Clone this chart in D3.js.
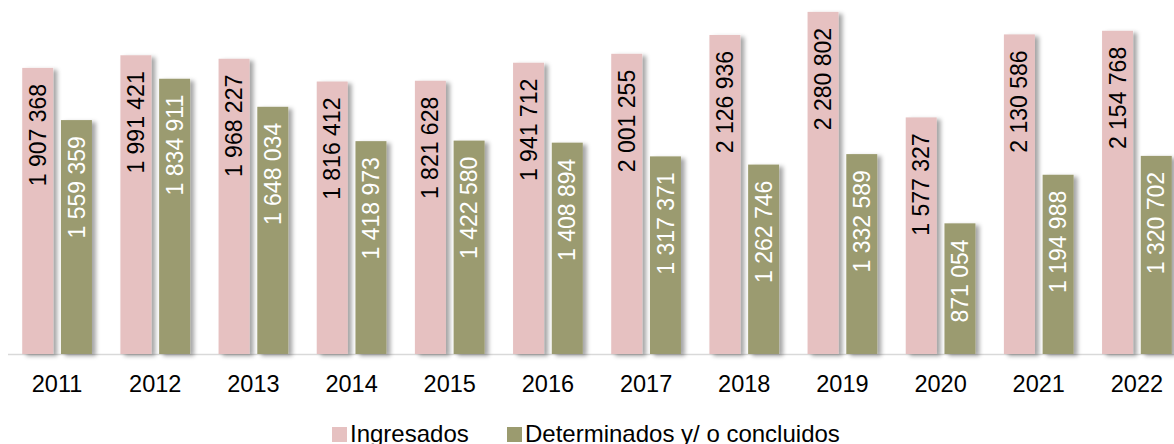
<!DOCTYPE html>
<meta charset="utf-8">
<style>
  body { margin: 0; background: #fff; }
  text { font-family: "Liberation Sans", Arial, sans-serif; }
</style>
<svg id="chart" width="1174" height="444"></svg>
<script src="https://d3js.org/d3.v7.min.js"></script>
<script>
// data
var years = ["2011", "2012", "2013", "2014", "2015", "2016", "2017", "2018", "2019", "2020", "2021", "2022"]
var ingresados = [1907368, 1991421, 1968227, 1816412, 1821628, 1941712, 2001255, 2126936, 2280802, 1577327, 2130586, 2154768]
var determinados = [1559359, 1834911, 1648034, 1418973, 1422580, 1408894, 1317371, 1262746, 1332589, 871054, 1194988, 1320702]
var seriesNames = ["Ingresados", "Determinados y/ o concluidos"]
var seriesColors = ["#e6c1c1", "#9b9b6f"]
var labelColors = ["#000", "#fff"]

var rows = years.map((y, i) => ({ year: y, values: [ingresados[i], determinados[i]] }))

var svg = d3.select("#chart")
var fmt = d3.formatLocale({ decimal: ",", thousands: " ", grouping: [3], currency: ["", ""] }).format(",")

var baseY = 354
var x0 = d3.scaleBand().domain(years).range([8, 1186]).paddingInner(0.29).paddingOuter(0.145)
var x1 = d3.scaleBand().domain([0, 1]).range([0, x0.bandwidth()]).paddingInner(0.2)
var y = d3.scaleLinear().domain([0, 2360000]).range([baseY, 0])

// soft shadow to the right of each bar
var defs = svg.append("defs")
defs.append("filter").attr("id", "shadow")
  .attr("x", "-20%").attr("y", "-10%").attr("width", "160%").attr("height", "130%")
  .append("feDropShadow")
  .attr("dx", 4).attr("dy", 2).attr("stdDeviation", 2)
  .attr("flood-color", "#000").attr("flood-opacity", 0.35)

// axis line
svg.append("line")
  .attr("x1", 8).attr("x2", 1174)
  .attr("y1", baseY + 0.5).attr("y2", baseY + 0.5)
  .attr("stroke", "#d9d9d9").attr("stroke-width", 1.5)

var groups = svg.selectAll("g.year").data(rows).enter().append("g")
  .attr("class", "year")
  .attr("transform", d => "translate(" + x0(d.year) + ",0)")

groups.selectAll("rect").data(d => d.values).enter().append("rect")
  .attr("x", (d, i) => x1(i))
  .attr("y", d => y(d))
  .attr("width", x1.bandwidth())
  .attr("height", d => baseY - y(d))
  .attr("fill", (d, i) => seriesColors[i])
  .attr("filter", "url(#shadow)")

groups.selectAll("text.val").data(d => d.values).enter().append("text")
  .attr("class", "val")
  .attr("transform", (d, i) => "translate(" + (x1(i) + x1.bandwidth() / 2) + "," + (y(d) + 16) + ") rotate(-90)")
  .attr("text-anchor", "end")
  .attr("dy", "0.35em")
  .attr("fill", (d, i) => labelColors[i])
  .style("font-size", "23px")
  .text(d => fmt(d))

// year labels
svg.selectAll("text.yr").data(years).enter().append("text")
  .attr("class", "yr")
  .attr("x", d => x0(d) + x0.bandwidth() / 2)
  .attr("y", 392)
  .attr("text-anchor", "middle")
  .style("font-size", "23.5px")
  .text(d => d)

// legend
var legendX = [332, 507]
var legend = svg.selectAll("g.leg").data(seriesNames).enter().append("g")
  .attr("class", "leg")
  .attr("transform", (d, i) => "translate(" + legendX[i] + ",0)")
legend.append("rect")
  .attr("x", 0).attr("y", 427).attr("width", 15).attr("height", 15)
  .attr("fill", (d, i) => seriesColors[i])
legend.append("text")
  .attr("x", 18).attr("y", 442)
  .style("font-size", "24px")
  .text(d => d)
</script>
